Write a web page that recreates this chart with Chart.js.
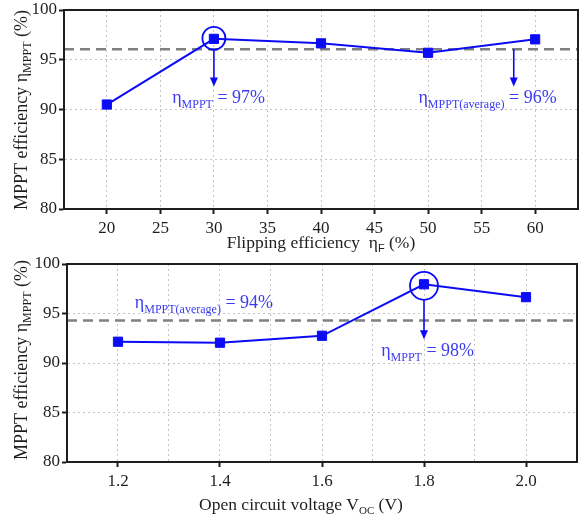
<!DOCTYPE html>
<html>
<head>
<meta charset="utf-8">
<script src="https://cdn.jsdelivr.net/npm/chart.js@4"></script>
<style>
  body { margin: 0; background: #fff; }
  canvas { display: block; }
</style>
</head>
<body>
<canvas id="flipChart" width="580" height="252"></canvas>
<canvas id="vocChart" width="580" height="266"></canvas>
<script>
const SERIF = '"Liberation Serif", "Times New Roman", serif'
const BLUE = '#0b0bf5'
const TEXT_BLUE = '#3b3bf0'

// top panel: MPPT efficiency vs flipping efficiency
const flipEff = [20, 30, 40, 50, 60]
const flipMppt = [90.5, 97.1, 96.65, 95.7, 97.05]
const flipAvg = 96.05
const flipTicks = [20, 25, 30, 35, 40, 45, 50, 55, 60]
const flipLabels = ['20', '25', '30', '35', '40', '45', '50', '55', '60']

// bottom panel: MPPT efficiency vs open circuit voltage
const vocVolts = [1.2, 1.4, 1.6, 1.8, 2.0]
const vocMppt = [92.15, 92.05, 92.75, 97.95, 96.65]
const vocAvg = 94.3
const vocTicks = [1.2, 1.3, 1.4, 1.5, 1.6, 1.7, 1.8, 1.9, 2.0]
const vocLabels = ['1.2', '', '1.4', '', '1.6', '', '1.8', '', '2.0']

const effTicks = [80, 85, 90, 95, 100]

// draw text pieces with subscripts, left aligned at x, baseline y
function drawRich(ctx, x, y, parts, color) {
    ctx.save()
    ctx.fillStyle = color
    ctx.textBaseline = 'alphabetic'
    ctx.textAlign = 'left'
    let cx = x
    parts.forEach(p => {
        ctx.font = p.size + 'px ' + (p.family || SERIF)
        ctx.fillText(p.t, cx, y + (p.dy || 0))
        cx += ctx.measureText(p.t).width
    })
    ctx.restore()
    return cx - x
}

function richWidth(ctx, parts) {
    let w = 0
    ctx.save()
    parts.forEach(p => {
        ctx.font = p.size + 'px ' + (p.family || SERIF)
        w += ctx.measureText(p.t).width
    })
    ctx.restore()
    return w
}

function arrowDown(ctx, x, y1, y2) {
    ctx.save()
    ctx.strokeStyle = BLUE
    ctx.fillStyle = BLUE
    ctx.lineWidth = 1.6
    ctx.beginPath()
    ctx.moveTo(x, y1)
    ctx.lineTo(x, y2 - 8)
    ctx.stroke()
    ctx.beginPath()
    ctx.moveTo(x - 4, y2 - 9)
    ctx.lineTo(x + 4, y2 - 9)
    ctx.lineTo(x, y2)
    ctx.closePath()
    ctx.fill()
    ctx.restore()
}

const etaMain = (sub, rest) => [
    { t: 'η', size: 18 },
    { t: sub, size: 12, dy: 5 },
    { t: rest, size: 18 }
]

const noPad = s => {
    s.paddingTop = 0
    s.paddingBottom = 0
    s.paddingLeft = 0
    s.paddingRight = 0
}

function makeChart(id, cfg) {
    const box = cfg.box
    const canvas = document.getElementById(id)

    const decor = {
        id: 'decor',
        afterDraw(chart) {
            const ctx = chart.ctx
            const a = chart.chartArea
            const xs = chart.scales.x
            const ys = chart.scales.y

            // frame
            ctx.save()
            ctx.strokeStyle = '#1e1e1e'
            ctx.lineWidth = 2
            ctx.strokeRect(a.left, a.top, a.right - a.left, a.bottom - a.top)
            ctx.restore()

            // y title (rotated, with subscript)
            const yParts = [
                { t: 'MPPT efficiency ', size: 18 },
                { t: 'η', size: 18 },
                { t: 'MPPT', size: 12, dy: 4 },
                { t: ' (%)', size: 18 }
            ]
            const yw = richWidth(ctx, yParts)
            ctx.save()
            ctx.translate(cfg.yTitleX, cfg.yTitleY)
            ctx.rotate(-Math.PI / 2)
            drawRich(ctx, -yw / 2, 0, yParts, '#1e1e1e')
            ctx.restore()

            // x title
            const xw = richWidth(ctx, cfg.xTitle)
            drawRich(ctx, cfg.xTitleX - xw / 2, cfg.xTitleY, cfg.xTitle, '#1e1e1e')

            // circle around the peak
            const px = xs.getPixelForValue(cfg.xData[cfg.peak])
            const py = ys.getPixelForValue(cfg.yData[cfg.peak])
            ctx.save()
            ctx.strokeStyle = BLUE
            ctx.lineWidth = 1.8
            ctx.beginPath()
            ctx.arc(px, py + cfg.ringDy, cfg.ringR, 0, Math.PI * 2)
            ctx.stroke()
            ctx.restore()

            cfg.arrows.forEach(ar => {
                const ax = xs.getPixelForValue(ar.x)
                const y1 = ar.fromPeak ? py + cfg.ringDy + cfg.ringR : ys.getPixelForValue(ar.y1)
                arrowDown(ctx, ax, y1, ys.getPixelForValue(ar.y2))
            })

            cfg.notes.forEach(n => {
                drawRich(ctx, xs.getPixelForValue(n.x), ys.getPixelForValue(n.y) + 6, n.parts, TEXT_BLUE)
            })
        }
    }

    return new Chart(canvas, {
        type: 'line',
        data: {
            datasets: [
                {
                    data: cfg.xData.map((x, i) => ({ x: x, y: cfg.yData[i] })),
                    borderColor: BLUE,
                    backgroundColor: BLUE,
                    borderWidth: 2,
                    pointStyle: 'rect',
                    pointRadius: 6.5,
                    pointBorderWidth: 1,
                    order: 0
                },
                {
                    data: [{ x: cfg.xMin, y: cfg.avg }, { x: cfg.xMax, y: cfg.avg }],
                    borderColor: '#808080',
                    borderWidth: 2.5,
                    borderDash: [10, 6],
                    pointRadius: 0,
                    order: 1
                }
            ]
        },
        options: {
            responsive: false,
            animation: false,
            devicePixelRatio: 1,
            layout: {
                autoPadding: false,
                padding: { left: 0, top: box.top, right: 580 - box.right, bottom: 0 }
            },
            plugins: { legend: { display: false }, tooltip: { enabled: false } },
            scales: {
                x: {
                    type: 'linear',
                    min: cfg.xMin,
                    max: cfg.xMax,
                    afterBuildTicks: s => { s.ticks = cfg.xTicks.map(v => ({ value: v })) },
                    afterFit: s => { s.height = canvas.height - box.bottom; noPad(s) },
                    ticks: {
                        callback: (v, i) => cfg.xLabels[i],
                        font: { family: SERIF, size: 17 },
                        color: '#1e1e1e',
                        padding: 4,
                        maxRotation: 0,
                        autoSkip: false
                    },
                    grid: {
                        color: '#c4c4c4',
                        lineWidth: 1,
                        tickColor: c => cfg.xLabels[c.index] ? '#1e1e1e' : 'rgba(0,0,0,0)',
                        tickLength: 5,
                        tickWidth: 2
                    },
                    border: { display: true, color: '#1e1e1e', width: 2, dash: [2, 3] }
                },
                y: {
                    min: 80,
                    max: 100,
                    afterBuildTicks: s => { s.ticks = effTicks.map(v => ({ value: v })) },
                    afterFit: s => { s.width = box.left; noPad(s) },
                    ticks: {
                        font: { family: SERIF, size: 17 },
                        color: '#1e1e1e',
                        padding: 2
                    },
                    grid: {
                        color: '#c4c4c4',
                        lineWidth: 1,
                        tickColor: '#1e1e1e',
                        tickLength: 5,
                        tickWidth: 2
                    },
                    border: { display: true, color: '#1e1e1e', width: 2, dash: [2, 3] }
                }
            }
        },
        plugins: [decor]
    })
}

makeChart('flipChart', {
    box: { left: 64, top: 10, right: 578, bottom: 209 },
    xData: flipEff, yData: flipMppt, avg: flipAvg,
    xMin: 16, xMax: 64, xTicks: flipTicks, xLabels: flipLabels,
    yTitleX: 27, yTitleY: 110,
    xTitleX: 321, xTitleY: 248,
    xTitle: [
        { t: 'Flipping efficiency  η', size: 17.5 },
        { t: 'F', size: 11, dy: 4, family: '"Liberation Sans", Arial, sans-serif' },
        { t: ' (%)', size: 17.5 }
    ],
    peak: 1, ringR: 11.5, ringDy: -0.5,
    arrows: [
        { x: 30, fromPeak: true, y2: 92.3 },
        { x: 58, y1: flipAvg, y2: 92.3 }
    ],
    notes: [
        { x: 26.1, y: 91.3, parts: etaMain('MPPT', ' = 97%') },
        { x: 49.1, y: 91.3, parts: etaMain('MPPT(average)', ' = 96%') }
    ]
})

makeChart('vocChart', {
    box: { left: 67, top: 12, right: 577, bottom: 210 },
    xData: vocVolts, yData: vocMppt, avg: vocAvg,
    xMin: 1.1, xMax: 2.1, xTicks: vocTicks, xLabels: vocLabels,
    yTitleX: 27, yTitleY: 108,
    xTitleX: 301, xTitleY: 258,
    xTitle: [
        { t: 'Open circuit voltage V', size: 17.5 },
        { t: 'OC', size: 11, dy: 4 },
        { t: ' (V)', size: 17.5 }
    ],
    peak: 3, ringR: 14, ringDy: 1.5,
    arrows: [
        { x: 1.8, fromPeak: true, y2: 92.4 }
    ],
    notes: [
        { x: 1.716, y: 91.3, parts: etaMain('MPPT', ' = 98%') },
        { x: 1.233, y: 96.2, parts: etaMain('MPPT(average)', ' = 94%') }
    ]
})
</script>
</body>
</html>
